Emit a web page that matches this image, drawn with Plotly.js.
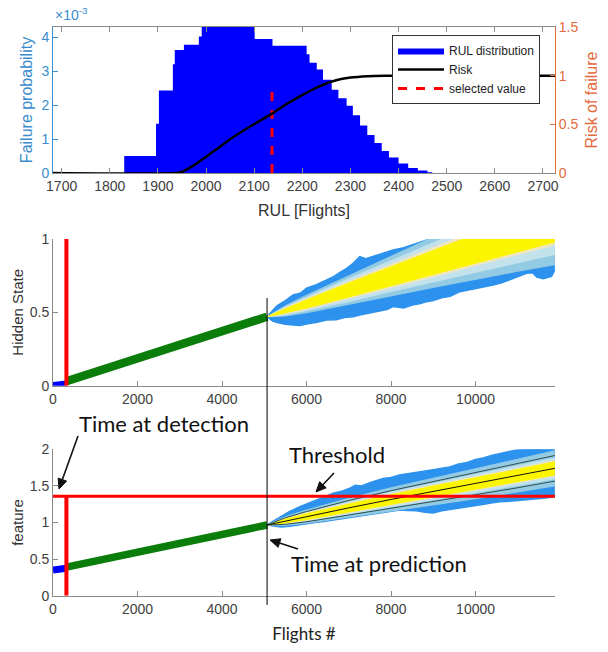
<!DOCTYPE html>
<html>
<head>
<meta charset="utf-8">
<script src="https://cdn.plot.ly/plotly-3.0.1.min.js"></script>
<style>html,body{margin:0;padding:0;background:#fff}#chart{width:608px;height:652px}</style>
</head>
<body>
<div id="chart"></div>
<script>
// ---------- Top panel: RUL distribution and risk ----------
const rulX = [1682, 1830, 1896, 1902, 1931, 1935, 1954, 1985, 1991, 2050, 2091, 2101, 2138, 2209, 2215, 2230, 2243, 2261, 2275, 2292, 2305, 2320, 2335, 2350, 2365, 2380, 2400, 2420, 2440, 2460, 2470, 2725];
const rulProb = [0, 0.5, 1.45, 2.43, 3.2, 3.62, 3.78, 4.02, 4.6, 4.7, 4.5, 3.95, 3.75, 3.5, 3.25, 3.05, 2.75, 2.45, 2.2, 1.98, 1.7, 1.4, 1.12, 0.88, 0.65, 0.46, 0.28, 0.15, 0.07, 0.02, 0, 0]; // x1e-3
const riskX = [1682, 1935, 1949, 1973, 2015, 2057, 2099, 2137, 2161, 2196, 2231, 2265, 2300, 2335, 2380, 2725];
const riskY = [0, 0, 0.01, 0.075, 0.22, 0.37, 0.5, 0.61, 0.69, 0.79, 0.88, 0.945, 0.98, 0.995, 1.0, 1.0];
const selectedRUL = 2137;
const selectedTop = 2.55; // x1e-3
const rulTicks = [1700, 1800, 1900, 2000, 2100, 2200, 2300, 2400, 2500, 2600, 2700];

// ---------- Middle / bottom panels ----------
const flightsMax = 11880;
const detectFlight = 317;
const predictFlight = 5066;
const threshold = 1.36;

// hidden state history
const hsEarlyX = [0, 150, 317];
const hsEarlyY = [0.008, 0.01, 0.018];
const hsHistX = [317, 5066];
const hsHistY = [0.03, 0.47];

// feature history
const fEarlyX = [0, 150, 317];
const fEarlyY = [0.35, 0.356, 0.375];
const fHistX = [317, 5066];
const fHistY = [0.39, 0.966];

// forecast fan grid
const fanX = [5066, 5500, 6000, 7000, 8000, 9000, 10000, 11000, 11877];

// hidden-state fan: median and half-widths of bands
const hsMed    = [0.47, 0.51, 0.557, 0.652, 0.747, 0.842, 0.937, 1.03, 1.11];
const hsYellow = [0, 0.015, 0.028, 0.048, 0.066, 0.085, 0.1, 0.118, 0.13];
const hsBeige  = [0, 0.02, 0.035, 0.058, 0.078, 0.1, 0.117, 0.135, 0.15];
const hsPale   = [0, 0.027, 0.045, 0.078, 0.105, 0.135, 0.162, 0.19, 0.215];
const hsLight  = [0, 0.035, 0.06, 0.1, 0.135, 0.172, 0.21, 0.25, 0.285];
// hidden-state trajectory envelope
const hsUpX = [5066, 5200, 5300, 5500, 5682, 5850, 6000, 6250, 6472, 6650, 6800, 6950, 7102, 7260, 7400, 7500, 7750, 8049, 8300, 8500, 8700, 8840, 9120, 10000, 11000, 11877];
const hsUpY = [0.47, 0.51, 0.545, 0.58, 0.618, 0.63, 0.665, 0.69, 0.72, 0.745, 0.775, 0.8, 0.834, 0.88, 0.865, 0.875, 0.9, 0.925, 0.94, 0.96, 0.975, 0.993, 1.02, 1.12, 1.22, 1.3];
const hsLoX = [5066, 5200, 5300, 5500, 5682, 5850, 6000, 6250, 6472, 6700, 6900, 7100, 7260, 7500, 7700, 7900, 8049, 8300, 8500, 8700, 8840, 9000, 9200, 9400, 9628, 10000, 10200, 10417, 10600, 10800, 11000, 11207, 11350, 11450, 11600, 11800, 11877];
const hsLoY = [0.47, 0.44, 0.43, 0.418, 0.414, 0.41, 0.42, 0.432, 0.448, 0.45, 0.465, 0.47, 0.482, 0.495, 0.51, 0.52, 0.539, 0.53, 0.55, 0.56, 0.573, 0.58, 0.6, 0.61, 0.641, 0.66, 0.67, 0.686, 0.7, 0.72, 0.745, 0.766, 0.77, 0.74, 0.73, 0.745, 0.789];

// feature fan
const fMed    = [0.966, 1.02, 1.08, 1.2, 1.315, 1.425, 1.53, 1.64, 1.74];
const fYellow = [0, 0.025, 0.04, 0.055, 0.065, 0.072, 0.078, 0.085, 0.09];
const fBeige  = [0, 0.03, 0.05, 0.066, 0.077, 0.085, 0.092, 0.098, 0.103];
const fPale   = [0, 0.038, 0.06, 0.085, 0.1, 0.112, 0.122, 0.132, 0.14];
const fBlack  = [0, 0.045, 0.07, 0.1, 0.12, 0.135, 0.15, 0.165, 0.175];
const fLight  = [0, 0.06, 0.09, 0.13, 0.16, 0.185, 0.205, 0.225, 0.24];
const fUpX = [5066, 5250, 5400, 5600, 5841, 6000, 6200, 6400, 6630, 6850, 7024, 7150, 7300, 7500, 7813, 8000, 8200, 8400, 8602, 8800, 9000, 9200, 9391, 9600, 9800, 10000, 10180, 10400, 10575, 10800, 10970, 11200, 11400, 11650, 11877];
const fUpY = [0.966, 1.03, 1.08, 1.15, 1.216, 1.25, 1.3, 1.345, 1.4, 1.43, 1.467, 1.51, 1.5, 1.545, 1.6, 1.615, 1.65, 1.665, 1.69, 1.7, 1.72, 1.74, 1.76, 1.8, 1.82, 1.86, 1.88, 1.92, 1.945, 1.97, 1.99, 1.995, 2.0, 2.005, 2.01];
const fLoX = [5066, 5250, 5400, 5600, 5841, 6000, 6200, 6400, 6630, 6800, 7000, 7200, 7418, 7600, 7800, 8000, 8207, 8400, 8600, 8800, 8995, 9200, 9400, 9600, 9786, 10000, 10200, 10400, 10575, 10800, 11000, 11200, 11364, 11600, 11877];
const fLoY = [0.966, 0.95, 0.94, 0.95, 0.966, 0.98, 1.0, 1.015, 1.034, 1.05, 1.07, 1.085, 1.1, 1.115, 1.13, 1.15, 1.17, 1.165, 1.16, 1.14, 1.13, 1.16, 1.18, 1.2, 1.216, 1.235, 1.25, 1.27, 1.284, 1.29, 1.3, 1.305, 1.31, 1.33, 1.35];

// ---------- styles ----------
const C_BLUE_AX = '#3a8ccc', C_ORANGE = '#e36a3c', C_GRAY = '#8a8a8a', C_TXT = '#404040';
const C_TRAJ = '#2c92ee', C_LIGHT = '#93cbe4', C_PALE = '#c3e2ec', C_BEIGE = '#f1e6bd', C_YEL = '#fbf600';
const FONT = 'Liberation Sans, Arial, sans-serif';
const ANN = 'Lato, Noto Sans, sans-serif';

const px = v => v / 608, py = v => 1 - v / 652;
const add = (a, b, s) => a.map((v, i) => v + s * b[i]);

const traces = [];
// top
traces.push({x: rulX, y: rulProb, type: 'scatter', mode: 'lines', line: {shape: 'hv', width: 0, color: '#0000ff'},
  fill: 'tozeroy', fillcolor: '#0000ff', name: 'RUL distribution', xaxis: 'x', yaxis: 'y'});
traces.push({x: riskX, y: riskY, type: 'scatter', mode: 'lines', line: {color: '#000', width: 2.5, shape: 'spline'},
  name: 'Risk', xaxis: 'x', yaxis: 'y2'});
traces.push({x: [selectedRUL, selectedRUL], y: [0, selectedTop], type: 'scatter', mode: 'lines',
  line: {color: '#ff0000', width: 3, dash: 'dash'}, name: 'selected value', xaxis: 'x', yaxis: 'y'});

function band(xs, up, lo, color, xa, ya) {
  traces.push({x: xs, y: up, type: 'scatter', mode: 'lines', line: {color: color, width: 1}, showlegend: false, xaxis: xa, yaxis: ya, hoverinfo: 'skip'});
  traces.push({x: xs, y: lo, type: 'scatter', mode: 'lines', line: {color: color, width: 1}, fill: 'tonexty', fillcolor: color, showlegend: false, xaxis: xa, yaxis: ya, hoverinfo: 'skip'});
}
function line(xs, ys, color, width, xa, ya) {
  traces.push({x: xs, y: ys, type: 'scatter', mode: 'lines', line: {color: color, width: width}, showlegend: false, xaxis: xa, yaxis: ya, hoverinfo: 'skip'});
}
function envelope(ux, uy, lx, ly, xa, ya) {
  traces.push({x: ux, y: uy, type: 'scatter', mode: 'lines', line: {color: C_TRAJ, width: 1.5}, showlegend: false, xaxis: xa, yaxis: ya, hoverinfo: 'skip'});
  traces.push({x: lx, y: ly, type: 'scatter', mode: 'lines', line: {color: C_TRAJ, width: 1.5}, fill: 'tonexty', fillcolor: C_TRAJ, showlegend: false, xaxis: xa, yaxis: ya, hoverinfo: 'skip'});
}

// middle panel
envelope(hsUpX, hsUpY, hsLoX, hsLoY, 'x2', 'y3');
band(fanX, add(hsMed, hsLight, 1), add(hsMed, hsLight, -1), C_LIGHT, 'x2', 'y3');
band(fanX, add(hsMed, hsPale, 1), add(hsMed, hsPale, -1), C_PALE, 'x2', 'y3');
band(fanX, add(hsMed, hsBeige, 1), add(hsMed, hsBeige, -1), C_BEIGE, 'x2', 'y3');
band(fanX, add(hsMed, hsYellow, 1), add(hsMed, hsYellow, -1), C_YEL, 'x2', 'y3');
line(hsEarlyX, hsEarlyY, '#0000ff', 5, 'x2', 'y3');
line(hsHistX, hsHistY, '#0a7d0a', 8.5, 'x2', 'y3');
line([detectFlight, detectFlight], [0, 1], '#ff0000', 4, 'x2', 'y3');

// bottom panel
envelope(fUpX, fUpY, fLoX, fLoY, 'x3', 'y4');
band(fanX, add(fMed, fLight, 1), add(fMed, fLight, -1), C_LIGHT, 'x3', 'y4');
band(fanX, add(fMed, fPale, 1), add(fMed, fPale, -1), C_PALE, 'x3', 'y4');
band(fanX, add(fMed, fBeige, 1), add(fMed, fBeige, -1), C_BEIGE, 'x3', 'y4');
band(fanX, add(fMed, fYellow, 1), add(fMed, fYellow, -1), C_YEL, 'x3', 'y4');
line(fanX, add(fMed, fBlack, 1), '#2f4f4f', 1, 'x3', 'y4');
line(fanX, add(fMed, fBlack, -1), '#2f4f4f', 1, 'x3', 'y4');
line(fanX, fMed, '#111', 1, 'x3', 'y4');
line(fEarlyX, fEarlyY, '#0000ff', 7, 'x3', 'y4');
line(fHistX, fHistY, '#0a7d0a', 7.5, 'x3', 'y4');
line([detectFlight, detectFlight], [0, threshold], '#ff0000', 4, 'x3', 'y4');
line([0, flightsMax], [threshold, threshold], '#ff0000', 3, 'x3', 'y4');

const dom = [px(53), px(555)];
const baseAx = {showgrid: false, zeroline: false, showline: true, ticks: 'inside', ticklen: 5, tickwidth: 1, linewidth: 1,
  linecolor: C_GRAY, tickcolor: C_GRAY, tickfont: {family: FONT, size: 14, color: C_TXT}};

// arrow shapes (pixel coordinates of tail and head)
function arrow(x0, y0, x1, y1) {
  const dx = x1 - x0, dy = y1 - y0, L = Math.hypot(dx, dy), ux = dx / L, uy = dy / L;
  const hl = 10, hw = 4.5;
  const bx = x1 - ux * hl, by = y1 - uy * hl;
  const p1 = [bx - uy * hw, by + ux * hw], p2 = [bx + uy * hw, by - ux * hw];
  return [
    {type: 'line', xref: 'paper', yref: 'paper', x0: px(x0), y0: py(y0), x1: px(bx), y1: py(by), line: {color: '#111', width: 1.6}},
    {type: 'path', xref: 'paper', yref: 'paper', fillcolor: '#111', line: {color: '#111', width: 1},
      path: `M ${px(x1)} ${py(y1)} L ${px(p1[0])} ${py(p1[1])} L ${px(p2[0])} ${py(p2[1])} Z`}
  ];
}

const layout = {
  width: 608, height: 652, margin: {l: 0, r: 0, t: 0, b: 0},
  paper_bgcolor: '#fff', plot_bgcolor: 'rgba(0,0,0,0)',
  showlegend: true,
  legend: {x: px(392), y: py(35), xanchor: 'left', yanchor: 'top', bgcolor: '#fff', bordercolor: '#333', borderwidth: 1,
    font: {family: FONT, size: 12, color: '#222'}, itemwidth: 46, tracegroupgap: 0, traceorder: 'normal'},
  xaxis: Object.assign({}, baseAx, {domain: dom, range: [1682, 2725], anchor: 'y', tickvals: rulTicks, mirror: 'ticks',
    title: {text: 'RUL [Flights]', font: {family: FONT, size: 16, color: '#333'}, standoff: 12}}),
  yaxis: Object.assign({}, baseAx, {domain: [py(173), py(27)], range: [0, 4.3], dtick: 1, anchor: 'x',
    linecolor: C_BLUE_AX, tickcolor: C_BLUE_AX, tickfont: {family: FONT, size: 14, color: C_BLUE_AX},
    title: {text: 'Failure probability', font: {family: FONT, size: 16, color: C_BLUE_AX}, standoff: 4}}),
  yaxis2: Object.assign({}, baseAx, {overlaying: 'y', side: 'right', anchor: 'x', range: [0, 1.5], dtick: 0.5,
    linecolor: C_ORANGE, tickcolor: C_ORANGE, tickfont: {family: FONT, size: 14, color: C_ORANGE},
    title: {text: 'Risk of failure', font: {family: FONT, size: 16, color: C_ORANGE}, standoff: 8}}),
  xaxis2: Object.assign({}, baseAx, {domain: dom, range: [0, flightsMax], anchor: 'y3', dtick: 2000, tick0: 0, tickformat: 'd'}),
  yaxis3: Object.assign({}, baseAx, {domain: [py(385.7), py(239)], range: [0, 1], dtick: 0.5, anchor: 'x2',
    title: {text: 'Hidden State', font: {family: FONT, size: 15, color: '#333'}, standoff: 2}}),
  xaxis3: Object.assign({}, baseAx, {domain: dom, range: [0, flightsMax], anchor: 'y4', dtick: 2000, tick0: 0, tickformat: 'd',
    title: {text: 'Flights #', font: {family: ANN, size: 17, color: '#222'}, standoff: 12}}),
  yaxis4: Object.assign({}, baseAx, {domain: [py(595.7), py(449.3)], range: [0, 2], dtick: 0.5, anchor: 'x3',
    title: {text: 'feature', font: {family: FONT, size: 15, color: '#333'}, standoff: 2}}),
  shapes: [
    {type: 'line', xref: 'x2', yref: 'paper', x0: predictFlight, x1: predictFlight, y0: py(605), y1: py(298), line: {color: '#000', width: 1}}
  ].concat(arrow(78, 436, 59, 489), arrow(334, 473, 316, 492), arrow(298, 549, 270, 540)),
  annotations: [
    {xref: 'paper', yref: 'paper', x: px(53), y: py(25), xanchor: 'left', yanchor: 'bottom', showarrow: false,
      text: '×10<sup>-3</sup>', font: {family: FONT, size: 14, color: C_BLUE_AX}},
    {xref: 'paper', yref: 'paper', x: px(164), y: py(423), xanchor: 'center', yanchor: 'middle', showarrow: false, text: 'Time at detection', font: {family: ANN, size: 22, color: '#111'}},
    {xref: 'paper', yref: 'paper', x: px(337), y: py(454), xanchor: 'center', yanchor: 'middle', showarrow: false, text: 'Threshold', font: {family: ANN, size: 22, color: '#111'}},
    {xref: 'paper', yref: 'paper', x: px(379), y: py(563), xanchor: 'center', yanchor: 'middle', showarrow: false, text: 'Time at prediction', font: {family: ANN, size: 22, color: '#111'}}
  ]
};

Plotly.newPlot('chart', traces, layout, {staticPlot: true, displayModeBar: false});
</script>
</body>
</html>
